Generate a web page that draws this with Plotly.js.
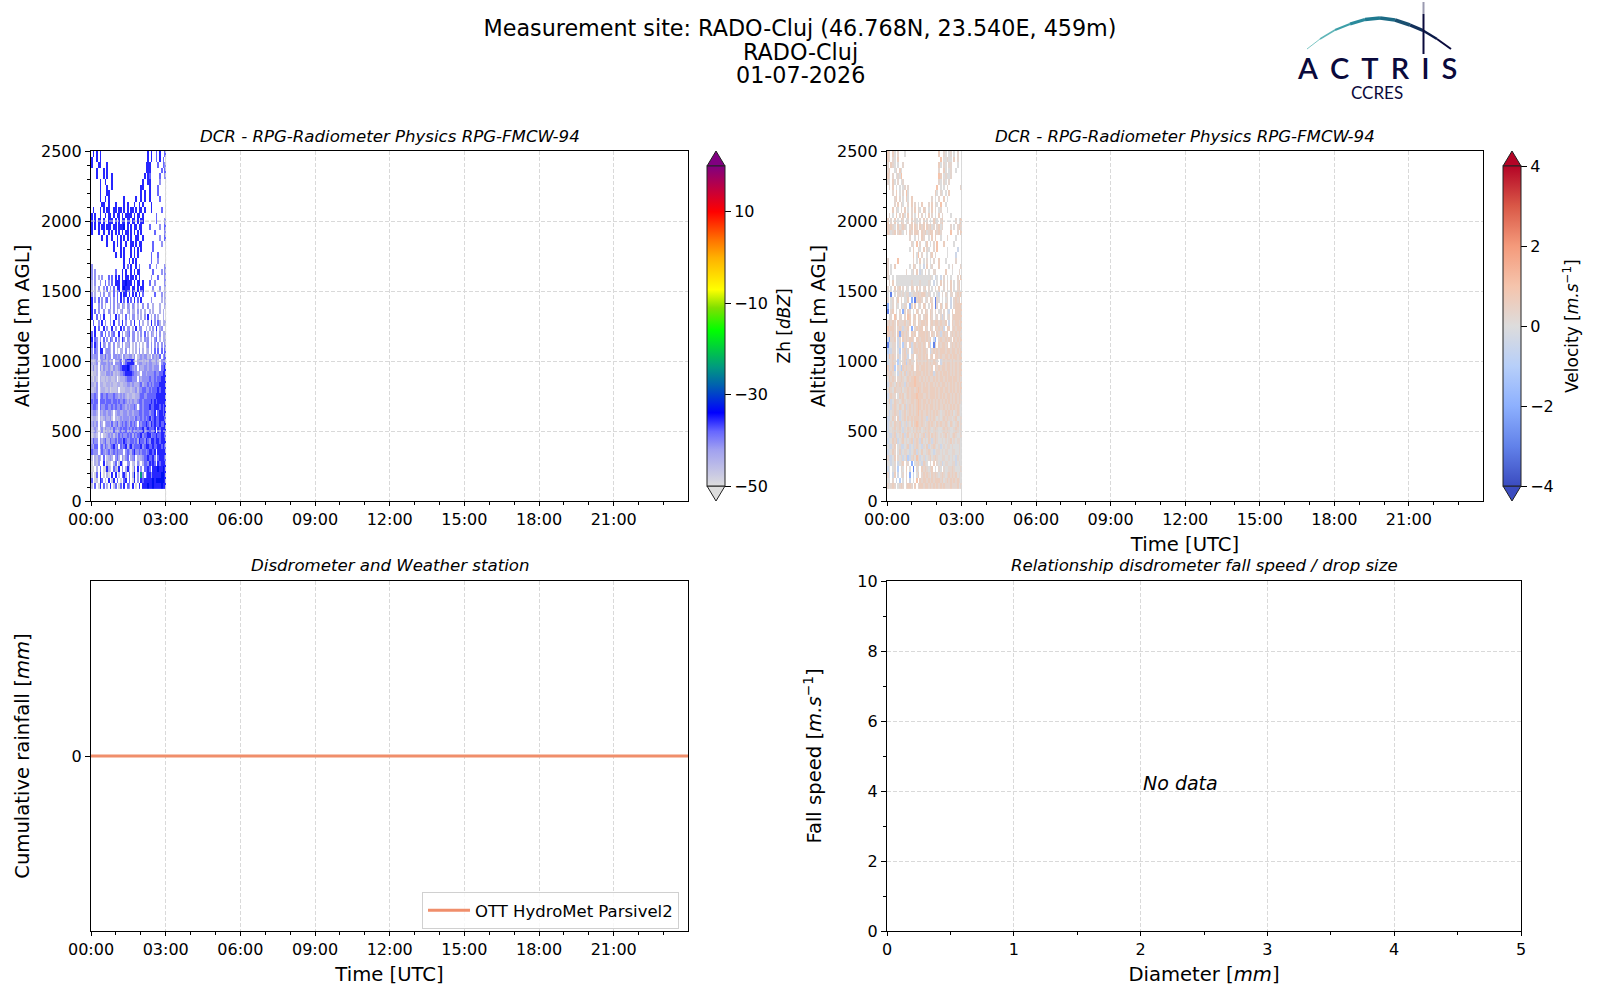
<!DOCTYPE html>
<html>
<head>
<meta charset="utf-8">
<script src="https://cdn.plot.ly/plotly-3.0.1.min.js"></script>
<style>body { margin: 0; background: #fff; }</style>
</head>
<body>
<div id="chart" style="width:1600px;height:1000px"></div>
<script>
// values, top row = highest gate, '.' = no signal
const zhLevels = {'0': -49, '1': -46.5, '2': -44, '3': -41, '4': -38, '5': -35.5, '6': -33, '7': -24};
const velLevels = {'0': -3, '1': -2, '2': -1, '3': -0.4, '4': 0, '5': 0.3, '6': 0.6, '7': 1, '8': 1.6};

const zhRows = [
".5.5.5..... ........... ........... 5.5..4.5..4",
"5..5.5..... ........... ........... 5.5..4.5.4.",
"5...55...5. ........... ..........5 55....4..43",
"...5...5.5. ........... ..........5 55......4.4",
"...5...5.5. .5......... .........5. 54.....4..3",
".....5..5.. .5......... ........5.. 55.....3...",
".....5...5. .5......... .......55.. .5....4....",
".....5...55 ........... .......5.5. .5....4....",
".....5..5.5 ........5.. ....5..5.5. .5.....4...",
"......55..5 ...5....5.5 ...5..5.5.. ..5........",
".5...5.5.55 ..55.55.5.5 .55.5.55.5. ..5.....4..",
"5.5..5..5.5 5.5.55.5.55 55.5.55.5.. .....4.....",
"5.5.55.5..5 55.5.5.55.5 5.55.5.55.. .....4....3",
"5.5.5.55.55 5.55.5556.5 .5.55.55... .4.....3..4",
"5...5..5..5 .5.5.5.5.55 .5.5.5.5... ....4.....3",
"......5..5. .5..5.5.5.5 .5..55..5.. .......3..4",
".........5. ..5.5.5..5. .55.5.55... ...4....3..",
"........... ..5...5.5.. .5.5.5.5... ...4.......",
"........... ...5..5.5.. .5.5.5..... ..4...4....",
"........... ........5.. 5.5.5...... ..4...3....",
"3.......... ........5.4 .5..5.4.... .4...3....3",
"3.3........ ...4...5.5. .5.5.55.... ...4....3.3",
"3.3.2.3...4 .4.5.5.5.55 .55.5.5.... ..3...4...3",
"2.3..3..4.3 .4.555.5565 55.5.55.5.. .4..3.....3",
"2.2.3..3.4. 3.4.55.5655 5.55.5.55.. ...3...3..2",
"3.2..3.3..3 2.4.4.5.55. 5.5.5.5.4.. ....4...3.2",
"5.3.4.3.34. 3.3.4.5.4.5 .4.5.4.5... ..3.....2.2",
"5...3.3.2.. 3.3.32.32.3 2.32.2..3.. 3..2...2..2",
"5.4.3..3..3 2.3.2.23..2 3.22.3.2.2. .2.2...2.2.",
"5..4.3.5... 3..5.3.2.4. 2.33.2.2.3. 5.2.3.2..2.",
".4..3.5.3.. 3.5..3.5.3. .3.5..4.2.. 2.5.3.42.22",
"..5.4..5.3. .5.3..5.4.3 3.2.5.33..2 .2.3.5.23..",
"4.5..34.4.3 .34..5.3.23 4.33.2.3.4. 2.32.3.3.22",
"5.43.3.4.3. 43.4.3.53.3 2.33.2.2.32 3.2.34.2.22",
"4.53.5.32.3 2.3.22.3.22 3.1.2.2.1.2 3.3.3.3.3.3",
"3.43.55.233 2.3.1.22.3. 2.1.2.3.2.1 2.3.4.4.4.4",
"3233.332423 3.33232.322 3313.123233 12.32324.34",
"2123.233323 23.3334.245 5553.233223 2332232.344",
"1312.313223 21322345556 54323.32233 2332333.445",
"0112.122133 23121233455 5543322.332 33334334455",
"1021.211212 2112.122234 44333.32333 34334344555",
"2213.221122 12112211223 32322234233 43434445555",
"1123.122112 01112.11122 21223133443 34344454555",
"3343.343343 33433232321 22112234433 44444555555",
"4344.444344 43443433432 32322344344 44545455555",
"3443.433443 34343343323 23343.34344 45445554545",
"2332.323323 32.23322332 33233344344 43445.45545",
"1221.212322 31.21232333 23324334343 45345445554",
"2323.32.233 24234234343 24343.43445 43545445445",
"1232.231322 32432343443 43434344534 54445.54555",
"0121.2.1123 23132434334 34243445344 55344544554",
"2433.323422 43342443543 34434254435 43554554555",
"3244.342432 34534.43452 45344445345 54454455454",
"4333.243234 23434333.34 32453343443 45545.55555",
"1.2132.4.12 32.342.3134 .234.212344 54453.45554",
"0.213..5.21 0.24.152..3 3.12.31.244 35454.54555",
"00.2.4.0052 1.4205.3.25 1.04.5.3.44 54.55565565",
"1.04.5.0.20 .5.5.1.452. 4.26.3.73.4 55355555665",
"4.01.54.1.5 .15.4.0.45. 4.05.3.5455 55565666665",
"1.4.05.4.2. 5.14.04.5.4 3.5.0.5.555 65565555655"
];

const velRows = [
"65.64.5...4 ........... ........6.. 54.45.4.5..",
"65.54.6.... ........... .........7. 44544.6.5..",
"5.654.4..5. ........... ........64. 54.55...4..",
"56..45.64.. ........... ........5.. 64.45..4...",
"65.5.4547.. ........... ........76. 45445......",
"54.64.5.45. ........... ........54. 54.5.......",
".5.6.4.4.45 .5......... .......7.4. 4.5.......5",
"...5.6.4.5. 74......... ......64.54 .4.6.......",
"....56.5.4. 64.6....... ....5.4.5.. 6.4........",
"....5.6.54. .5.6.5.4.6. ..5.6.54.7. .4.........",
"...6.54.5.6 .4.5.6.54.6 5.4.6.5.45. ..4........",
".5.4.6.5.64 .6.5.4.6.5. 4.6.5.4.6.5 ....4......",
"6.5.6.4.65. 45.6.54.5.6 .5.4.654.56 .......5.46",
"65654.64565 4.56.65.656 .65645.5645 ....5.4.565",
"65456.5654. 5.65.665.65 64566.6565. ....7...5.6",
"........... ..5..4.5.65 ..4.6.6..4. ..5....4...",
"........... ...54.7.5.. 46.4.5.7... 6.....4....",
"........... ..4.6..54.6 .54..5.7... ..4.....3..",
"........... ....6.47.5. .4.56.5.... ..4....3...",
"5.....7.... ....5.4.6.4 .5.4.5..6.. .4.....5...",
"5.4.6...... ..4.65..4.3 .6.45...6.. ...4.5....5",
"5.4........ 5..45.6.34. 5.4..55.... .6...4...5.",
"54.4.444444 44444444444 44454.34.3. 5.4.4...5.6",
".5.6.444444 44454444544 4454.3.4.6. 5.5.6.4.56.",
"5.4.6.56.5. 54.65.6.5.5 6.5.4.5.6.. 5.5.6.4.56.",
"4.0.4.55454 55345556566 5454.4.43.5 .54.55.5656",
"5.45.46.5.4 46.1.05665. 45.65.054.4 .45.3.5656.",
"1.45.54.545 5.15.6.45.6 5.4.6.05.64 .65.3.56666",
"0.56.4.5.15 .65.4.65.5. 65.65.5.45. 5.43.6.6666",
".45.75.55.5 .76.56.65.5 66.65.45.53 5.45.566666",
"56565.65556 456.65.6566 56.56566565 56.3.656656",
"75665.56535 56.1.56566. 65.65.65656 3.66.565666",
"66565.61565 65.656.5666 565.65.6535 656.5656565",
"31556.35.65 65665.66566 5656.31.565 56565.65656",
"03455.35.25 5.635656656 5.62.05.656 656.5656565",
"23355.42.56 35.35665656 65.35656566 65665665656",
"37565.53.56 53.56.56656 56.56.66565 56656566566",
"34565.24.56 25655.65656 56565665.35 65665656566",
"63562.54265 65565.66566 56556.65656 65665656566",
"55654.35646 35656566656 56566356565 66565656566",
"46565.55654 56566766565 65655656566 56566566565",
"35654656553 65666766656 56566565656 65656565656",
"46546555645 56566567656 66566656566 56656565656",
"35655.46564 56566676665 56566656565 65665656565",
"46346554565 45566567656 65656565656 56565656565",
"44356546546 35656567656 56566565655 65656565654",
"43456553456 45656567565 56565656545 56565645654",
"33465.63456 46565666565 53565654545 65655456445",
"34546556345 35464676565 45656546565 56546545645",
"34456456435 46546565645 65654565445 65654456545",
"43356345463 56454656456 35646565454 56454565445",
"34465634564 54563565364 54653565445 45456454554",
"43356.45334 56343565435 46345654534 54554544454",
"34465.46345 54345635464 45654345545 45544554454",
"53346.54534 62356475345 34564565445 54454543544",
"44345.3456. 55.1.456436 54.5.6.5453 45544553454",
"34.45.2.54. 6.4.0.54.65 65456.4.54. 54455654445",
"53.36.3.45. 5.1.3.46.56 56546565456 54565656454",
"44.5.3.2.4. 5.3.4.7.656 65656566656 45656565654",
"54565.4565. 5665.6.5665 66565656565 65556555645"
];

const rainTimes = ['2026-07-01 00:00', '2026-07-01 06:00', '2026-07-01 12:00', '2026-07-01 18:00', '2026-07-01 23:59'];
const rainValues = [0, 0, 0, 0, 0];

const zhTicks = [-50, -30, -10, 10];
const velTicks = [-4, -2, 0, 2, 4];
const altGrid = [500, 1000, 1500, 2000];
const titleLines = ['Measurement site: RADO-Cluj (46.768N, 23.540E, 459m)', 'RADO-Cluj', '01-07-2026'];

// jet-like scale of the reflectivity colorbar
const zhScale = [
	[0, '#dddddd'], [0.114, '#a0a0f0'], [0.171, '#6666ff'], [0.229, '#0000ff'], [0.314, '#0060b0'],
	[0.371, '#009980'], [0.486, '#00ff00'], [0.557, '#80e000'], [0.614, '#ffff00'], [0.714, '#ffb000'],
	[0.771, '#ff7000'], [0.857, '#ff0000'], [0.929, '#c00040'], [1, '#800080']
];
const velScale = [
	[0, '#3b4cc0'], [0.125, '#6282ea'], [0.25, '#8db0fe'], [0.375, '#b7cff9'], [0.5, '#dddcdc'],
	[0.625, '#f5c4ac'], [0.75, '#f49a7b'], [0.875, '#d95847'], [1, '#b40426']
];

const W = 1600, H = 1000;
const px = x => x / W;
const py = y => 1 - y / H;

function decode(rows, levels) {
	return rows.slice().reverse().map(r => r.replace(/ /g, '').split('').map(c => c in levels ? levels[c] : null));
}

const dayStart = '2026-07-01 00:00', dayEnd = '2026-07-01 23:59', radarEnd = '2026-07-01 03:00';
const colMs = 180 * 60000 / 44;
const gridColor = '#d9d9d9', gridDash = '4px,2px';

function timeAxis(domain, anchor, title) {
	let ax = {
		domain: domain, anchor: anchor, type: 'date', range: [dayStart, dayEnd],
		tick0: dayStart, dtick: 3 * 3600000, tickformat: '%H:%M',
		minor: {dtick: 3600000, ticks: 'outside', ticklen: 2.5, tickcolor: '#000', showgrid: false},
		ticks: 'outside', ticklen: 4, tickcolor: '#000', showline: true, linecolor: '#000', linewidth: 1.2, mirror: true,
		showgrid: true, gridcolor: gridColor, griddash: gridDash, gridwidth: 1,
		tickfont: {size: 16}, zeroline: false
	};
	if (title) ax.title = {text: title, font: {size: 19.6}, standoff: 8};
	return ax;
}

function valueAxis(domain, anchor, range, dtick, minorTick, title, standoff, ticklen) {
	return {
		domain: domain, anchor: anchor, range: range, dtick: dtick,
		minor: minorTick ? {dtick: minorTick, ticks: 'outside', ticklen: 2.5, tickcolor: '#000', showgrid: false} : undefined,
		ticks: 'outside', ticklen: ticklen, tickcolor: '#000', showline: true, linecolor: '#000', linewidth: 1.2, mirror: true,
		showgrid: true, gridcolor: gridColor, griddash: gridDash, gridwidth: 1,
		tickfont: {size: 16}, zeroline: false,
		title: {text: title, font: {size: 19.6}, standoff: standoff}
	};
}

const panelL = [px(91), px(688)];
const panelR = [px(887), px(1483)];
const panelD = [px(887), px(1521)];
const rowTop = [py(501), py(151)];
const rowBot = [py(931), py(581)];

function radar(rows, levels, xa, ya, scale, zmin, zmax, ticks, cbX) {
	return {
		type: 'heatmap', z: decode(rows, levels), showlegend: false,
		x0: '2026-07-01 00:02:03', dx: colMs, y0: 106, dy: 40.25,
		xaxis: xa, yaxis: ya, colorscale: scale, zmin: zmin, zmax: zmax, hoverinfo: 'skip',
		colorbar: {
			x: px(cbX), xanchor: 'left', xpad: 0, ypad: 0, y: py(326), yanchor: 'middle', len: 0.32, lenmode: 'fraction',
			thickness: 18, outlinewidth: 1, outlinecolor: '#222', ticks: 'outside', ticklen: 6, tickcolor: '#000',
			tickvals: ticks, tickfont: {size: 16}
		}
	};
}

let data = [
	radar(zhRows, zhLevels, 'x', 'y', zhScale, -50, 20, zhTicks, 707),
	radar(velRows, velLevels, 'x2', 'y2', velScale, -4, 4, velTicks, 1503),
	{
		type: 'scatter', mode: 'lines', x: rainTimes, y: rainValues, xaxis: 'x3', yaxis: 'y3',
		name: 'OTT HydroMet Parsivel2', line: {color: '#f08e6b', width: 2.8}, showlegend: true
	},
	{type: 'scatter', mode: 'markers', x: [], y: [], xaxis: 'x4', yaxis: 'y4', showlegend: false}
];

// extend triangles of the colorbars
function cbTip(x, color, up) {
	let yBase = up ? 166 : 486, yTip = up ? 151 : 501;
	return {
		type: 'path', xref: 'paper', yref: 'paper',
		path: 'M' + px(x) + ',' + py(yBase) + ' L' + px(x + 9) + ',' + py(yTip) + ' L' + px(x + 18) + ',' + py(yBase) + ' Z',
		fillcolor: color, line: {color: '#222', width: 1}
	};
}

// ACTRIS logo arc
const arcX = [1307, 1320, 1335, 1350, 1365, 1380, 1395, 1410, 1423, 1437, 1451];
const arcY = [49, 39, 30, 24, 19.5, 18, 20, 25, 30.5, 39, 49];
const arcColor = ['#7fc8c6', '#5fb5b8', '#3d9fa8', '#2a8a9c', '#1f7a90', '#1c6a85', '#1a5070', '#12305a', '#0b1a48', '#0a0a3c'];
const arcWidth = [1, 1.5, 2, 3, 3.5, 3.5, 3.5, 3, 2.5, 2];

let shapes = [
	cbTip(707, '#800080', true), cbTip(707, '#dddddd', false),
	cbTip(1503, '#b40426', true), cbTip(1503, '#3b4cc0', false)
];
arcColor.forEach((c, i) => {
	shapes.push({type: 'line', xref: 'paper', yref: 'paper', x0: px(arcX[i]), y0: py(arcY[i]), x1: px(arcX[i + 1]), y1: py(arcY[i + 1]), line: {color: c, width: arcWidth[i]}});
});
shapes.push({type: 'line', xref: 'paper', yref: 'paper', x0: px(1423.5), y0: py(2), x1: px(1423.5), y1: py(14), line: {color: '#9a9ab0', width: 2}});
shapes.push({type: 'line', xref: 'paper', yref: 'paper', x0: px(1423.5), y0: py(14), x1: px(1423.5), y1: py(54), line: {color: '#0a0a3c', width: 2}});

// the reference draws its grid over the radar cells
[['x', 'y'], ['x2', 'y2']].forEach(([xa, ya]) => {
	altGrid.forEach(alt => {
		shapes.push({type: 'line', xref: xa, yref: ya, x0: dayStart, x1: radarEnd, y0: alt, y1: alt, line: {color: gridColor, width: 1, dash: gridDash}});
	});
	shapes.push({type: 'line', xref: xa, yref: ya, x0: radarEnd, x1: radarEnd, y0: 0, y1: 2500, line: {color: gridColor, width: 1, dash: gridDash}});
});

function label(text, x, y, size, extra) {
	return Object.assign({text: text, xref: 'paper', yref: 'paper', x: px(x), y: py(y), showarrow: false, xanchor: 'center', yanchor: 'middle', font: {size: size}}, extra || {});
}

let annotations = [
	label(titleLines[1], 800, 52, 22.25),
	label(titleLines[2], 800, 74.5, 22.25),
	label('<i>DCR - RPG-Radiometer Physics RPG-FMCW-94</i>', 389.5, 136, 16.6),
	label('<i>DCR - RPG-Radiometer Physics RPG-FMCW-94</i>', 1185, 136, 16.6),
	label('<i>Disdrometer and Weather station</i>', 389.5, 565.5, 16.6),
	label('<i>Relationship disdrometer fall speed / drop size</i>', 1204, 565.5, 16.6),
	label('<i>No data</i>', 1180, 783, 19),
	label('Zh [<i>dBZ</i>]', 783.5, 326, 17, {textangle: -90}),
	label('Velocity [<i>m.s</i><sup>−1</sup>]', 1571, 326, 17, {textangle: -90}),
	label('A\u2005\u2006C\u2005\u2006T\u2005\u2006R\u2005\u2006I\u2005\u2006S', 1377, 67, 29, {height: 24, font: {size: 29, family: 'Lato', color: '#0a0a3c', weight: 600}}),
	label('CCRES', 1377, 93, 17, {font: {size: 17, family: 'Lato', color: '#0a0a3c'}})
];

let layout = {
	width: W, height: H, margin: {l: 0, r: 0, t: 0, b: 0}, paper_bgcolor: '#fff', plot_bgcolor: '#fff',
	font: {family: 'DejaVu Sans', color: '#000'},
	title: {text: titleLines[0], font: {size: 22.25}, x: 0.5, xanchor: 'center', y: py(28.6), yanchor: 'middle'},
	showlegend: true,
	legend: {
		x: px(679), xanchor: 'right', y: py(892), yanchor: 'top', bgcolor: 'rgba(255,255,255,0.8)',
		bordercolor: '#d0d0d0', borderwidth: 1, font: {size: 16.5}, itemwidth: 42
	},
	xaxis: timeAxis(panelL, 'y'),
	yaxis: valueAxis(rowTop, 'x', [0, 2500], 500, 100, 'Altitude [m AGL]', 6, 5),
	xaxis2: timeAxis(panelR, 'y2', 'Time [UTC]'),
	yaxis2: valueAxis(rowTop, 'x2', [0, 2500], 500, 100, 'Altitude [m AGL]', 6, 5),
	xaxis3: timeAxis(panelL, 'y3', 'Time [UTC]'),
	yaxis3: valueAxis(rowBot, 'x3', [-1, 1], 1, null, 'Cumulative rainfall [<i>mm</i>]', 36, 5),
	xaxis4: valueAxis(panelD, 'y4', [0, 5], 1, 0.5, 'Diameter [<i>mm</i>]', 8, 4),
	yaxis4: valueAxis(rowBot, 'x4', [0, 10], 2, 1, 'Fall speed [<i>m.s</i><sup>−1</sup>]', 29.5, 5),
	shapes: shapes,
	annotations: annotations
};
layout.yaxis3.tickvals = [0];

Plotly.newPlot('chart', data, layout, {displayModeBar: false});
</script>
</body>
</html>
